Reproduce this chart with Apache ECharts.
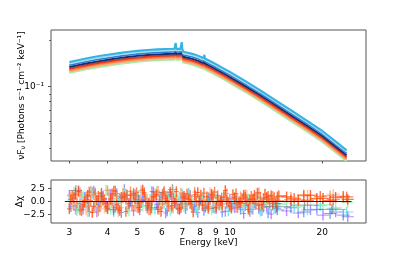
<!DOCTYPE html>
<html><head><meta charset="utf-8">
<script src="https://cdn.jsdelivr.net/npm/echarts@6/dist/echarts.min.js"></script>
<style>html,body{margin:0;padding:0;background:#fff}#c{width:407px;height:255px}</style>
</head><body><div id="c"></div>
<script>
// ---------- model (top panel): one model shape, one cross-normalisation constant per dataset ----------
const modelEnergy = [3.0,3.2,3.4,3.6,3.8,4.1,4.4,4.7,5.0,5.4,5.8,6.2,6.6,6.63,6.66,6.69,6.9,6.94,6.97,7.0,7.05,7.3,7.6,7.9,8.2,8.23,8.26,8.29,8.8,9.5,10,11.2,12.6,14.1,15.8,17.8,20,22.4,24];
const modelFlux   = [0.1340,0.1377,0.1411,0.1442,0.1469,0.1503,0.1535,0.1560,0.1581,0.1602,0.1617,0.1626,0.1631,0.1631,0.178,0.1630,0.1629,0.1628,0.180,0.1627,0.1560,0.1538,0.1507,0.1468,0.1422,0.1418,0.149,0.1413,0.1330,0.1225,0.1156,0.1012,0.0877,0.0759,0.0655,0.0562,0.0481,0.0403,0.0361];
const datasetNames = ['Green','Salmon','Orange','Red','Navy','Blue','Light','Cyan'];
const crossNorm    = [0.916, 0.935, 0.955, 0.975, 1.0, 1.029, 1.053, 1.077];

// ---------- residuals (bottom panel) ----------
const resErr = 1;
const energyGridA = [3.000,3.105,3.214,3.326,3.443,3.563,3.688,3.817,3.950,4.089,4.232,4.380,4.533,4.692,4.856,5.026,5.202,5.384,5.572,5.767,5.969,6.178,6.394,6.618,6.850,7.090,7.338,7.595,7.860,8.136,8.420,8.715,9.020,9.336,9.662,10.00,10.35,10.71,11.09,11.48,11.88,12.29,12.72,13.17,13.63,14.11,15.3,16.7,18.3,20.1,22.1,24.2];
const energyGridB = [3.035,3.141,3.251,3.364,3.483,3.604,3.730,3.861,3.995,4.136,4.281,4.430,4.585,4.746,4.912,5.084,5.262,5.446,5.636,5.833,6.038,6.249,6.468,6.694,6.929,7.172,7.422,7.682,7.950,8.230,8.517,8.815,9.124,9.443,9.773,10.12,10.47,10.83,11.22,11.61,12.02,12.43,12.87,13.32,13.79,14.27,15.8,17.4,19.2,21.2,23.4];
const energyGridC = [3.069,3.176,3.288,3.402,3.522,3.645,3.773,3.905,4.041,4.183,4.329,4.481,4.637,4.800,4.968,5.142,5.322,5.508,5.700,5.900,6.106,6.320,6.541,6.770,7.008,7.253,7.507,7.770,8.041,8.323,8.614,8.915,9.227,9.551,9.884,10.23,10.59,10.96,11.35,11.74,12.15,12.57,13.01,13.47,13.94,14.43,16.2,17.9,19.7,21.7,24.0];
const energyGray  = [3.15,3.46,3.8,4.18,4.6,5.05,5.55,6.1,6.5,7.0,7.7,8.5,9.4,10.5,12.0,14.2,17.5,21.5];

const resPurple = [1.2,-0.8,2.1,-1.5,0.4,1.7,-2.0,0.9,-0.3,1.4,-1.1,0.6,2.3,-0.7,-1.8,1.0,0.2,-1.3,1.9,-0.5,0.8,-2.2,1.3,-0.1,-1.6,0.7,1.5,-0.9,-2.1,0.3,-0.6,1.1,-1.4,-0.2,-1.9,0.5,-1.2,-0.4,-2.3,-0.8,-1.5,0.1,-1.7,-1.0,-2.4,-1.3,-1.8,-2.2,-1.6,-2.6,-2.0,-2.9];
const resGreen  = [0.3,1.8,-1.2,0.9,-2.0,1.4,0.1,-0.7,2.2,-1.5,0.6,-0.2,1.6,-1.8,0.8,1.2,-0.9,0.4,-1.4,1.9,-0.5,0.2,-1.7,1.1,0.7,-1.0,1.5,-0.3,-1.2,0.9,0.4,-1.6,1.0,-0.6,0.3,-1.1,0.8,-0.4,-0.9,0.5,-0.7,0.2,-1.3,-0.1,0.6,-0.8,-0.3,-1.0,0.4,-0.6,-1.2,-0.2];
const resRed    = [-1.4,0.7,1.9,-0.6,1.2,-2.1,0.3,1.6,-1.0,0.5,2.0,-1.7,0.9,-0.4,1.5,-1.2,2.2,-0.8,0.1,1.3,-1.9,0.6,1.8,-0.3,-1.4,1.0,0.4,-2.0,1.7,-0.7,0.9,1.4,-1.1,0.2,2.1,-0.9,0.7,-0.2,1.2,-1.5,0.5,1.6,-0.6,0.8,1.1,-0.4,0.9,0.3,1.2,0.6,0.8,0.4];
const resBlue   = [-1.0,1.6,-0.4,0.8,-1.9,2.0,-0.7,1.1,-1.3,0.2,1.5,-2.1,0.6,-0.1,1.3,-1.6,0.9,-0.5,1.8,-1.1,0.3,-1.8,1.0,-0.6,0.5,-1.4,1.2,-0.9,-0.2,-1.7,0.7,-1.2,0.1,-2.0,-0.4,-1.0,0.3,-1.5,-0.8,-1.9,-0.3,-1.4,-1.1,-2.2,-0.7,-1.6,-1.2,-2.0,-1.5,-2.3,-2.6];
const resCoral  = [0.9,-1.5,1.7,0.2,-0.9,1.3,-1.8,0.6,2.1,-0.4,1.0,-1.2,0.4,1.9,-0.8,0.1,1.4,-1.6,0.8,2.0,-0.5,1.1,-1.3,0.3,1.6,-1.0,0.7,1.8,-0.6,0.2,-1.4,1.2,0.5,-0.9,1.5,0.0,-1.1,0.9,1.3,-0.3,0.6,1.7,-0.7,0.4,1.0,0.2,0.8,1.3,0.5,1.1,0.7];
const resRed2   = [0.4,1.3,-1.6,-0.2,1.8,-0.9,1.0,0.3,-1.4,1.5,-0.6,0.8,-1.9,1.2,0.5,-1.1,1.7,-0.3,0.9,-1.5,1.4,0.2,-0.8,1.9,-1.2,0.6,-0.4,1.3,0.1,1.6,-1.0,0.7,1.1,-0.5,0.3,-1.3,1.5,-0.2,0.8,0.4,1.2,-0.7,0.5,1.0,-0.4,0.9,0.3,1.1,0.6,0.2,1.0];
const resCyan   = [0.5,-1.7,1.3,-0.3,2.0,-1.1,0.8,-0.6,1.5,-2.0,0.2,1.1,-1.4,0.7,-0.2,1.8,-0.9,0.4,-1.5,1.0,-0.4,0.9,-1.2,0.3,1.4,-0.8,-0.1,-1.6,0.6,-1.0,0.2,-1.3,-0.5,0.8,-1.8,-0.7,0.1,-1.1,-0.3,-1.5,-0.6,-1.9,-0.2,-1.0,-1.4,-0.5,-1.1,-1.6,-0.8,-1.3,-2.0];
const resPeach  = [-0.6,1.4,0.2,-1.6,1.9,-0.4,0.8,-1.3,1.2,0.5,-2.0,1.6,-0.1,0.9,-1.1,2.1,-0.7,0.3,1.5,-1.5,0.7,-0.3,1.8,-0.9,0.4,1.1,-1.2,0.6,1.3,-0.5,1.7,-0.8,0.2,1.0,-0.4,1.4,0.6,-0.2,1.2,0.3,0.9,-0.6,1.5,0.4,0.8,1.1,0.5,1.2,0.9,1.4,0.7];
const resTomato = [1.1,-0.3,-1.8,0.9,0.2,1.6,-1.0,0.4,-0.5,2.0,-1.3,0.7,1.2,-0.8,1.7,-0.2,0.5,-1.6,1.0,0.3,1.9,-0.9,0.6,-1.4,0.8,1.5,-0.6,0.1,1.2,-1.1,0.4,1.8,-0.7,0.9,-0.1,1.3,-1.2,0.6,0.2,1.0,-0.5,0.8,1.4,-0.3,0.7,1.1,0.6,0.2,1.0,0.4,0.9];
const resGray   = [2.1,-0.9,0.6,-1.6,1.2,0.3,-1.2,1.7,2.3,-0.5,1.0,-1.3,0.7,-0.4,0.5,-1.0,-0.7,-1.5];
const zeroLineEnergy = [2.9, 24.9];

// ---------- ticks ----------
const xTicks = [3,4,5,6,7,8,9,10,20];
const yMajorTicks = [0.1];
const yMinorTicks = [0.04,0.05,0.06,0.07,0.08,0.09,0.2];
const resTicks = [-2.5,0,2.5];

const FONT = 'DejaVu Sans';
const chart = echarts.init(document.getElementById('c'), null, {renderer:'canvas'});

function resData(es, rs){
  return es.map((e,i)=>{
    const prev = i>0 ? es[i-1] : e*e/es[i+1];
    const next = i<es.length-1 ? es[i+1] : e*e/es[i-1];
    return [e, rs[i], Math.sqrt(prev*e), Math.sqrt(e*next)];
  });
}
function errRender(color, opacity){
  return function(params, api){
    const e = api.value(0), r = api.value(1), lo = api.value(2), hi = api.value(3);
    const pc = api.coord([e, r]);
    const pl = api.coord([lo, r]), pr = api.coord([hi, r]);
    const pt = api.coord([e, r + resErr]), pb = api.coord([e, r - resErr]);
    return {type:'group', children:[
      {type:'line', shape:{x1:pl[0], y1:pc[1], x2:pr[0], y2:pc[1]}, style:{stroke:color, lineWidth:1, opacity:opacity}},
      {type:'line', shape:{x1:pc[0], y1:pt[1], x2:pc[0], y2:pb[1]}, style:{stroke:color, lineWidth:1.4, opacity:opacity}}
    ]};
  };
}

const modelColors = {Green:'#a3eea3', Salmon:'#ffaa80', Orange:'#ff7a3c', Red:'#dd3a20', Navy:'#1c2a6e', Blue:'#2f7fd0', Light:'#a8dcf2', Cyan:'#35b4e4'};
const resids = [
  [energyGridA, resPurple, '#9a5cff', 0.7],
  [energyGridB, resBlue,   '#3a6ff7', 0.65],
  [energyGridC, resCyan,   '#38d8e0', 0.65],
  [energyGridA, resGreen,  '#90eeb0', 0.8],
  [energyGray,  resGray,   '#555555', 0.55],
  [energyGridC, resPeach,  '#ffb38a', 0.8],
  [energyGridB, resCoral,  '#ff8c50', 0.8],
  [energyGridC, resTomato, '#ff6432', 0.8],
  [energyGridB, resRed2,   '#ff5018', 0.8],
  [energyGridA, resRed,    '#ff4a14', 0.85]
];

const series = [];
datasetNames.forEach((nm, k) => series.push({
  type:'line', name:nm, xAxisIndex:0, yAxisIndex:0,
  data: modelEnergy.map((e,i)=>[e, modelFlux[i]*crossNorm[k]]),
  showSymbol:false, symbol:'none', lineStyle:{color:modelColors[nm], width: nm==='Cyan'?2.1:1.9},
  itemStyle:{color:modelColors[nm]}, clip:true, silent:true
}));
resids.forEach(r => series.push({
  type:'custom', xAxisIndex:1, yAxisIndex:2,
  data: resData(r[0], r[1]), encode:{x:0, y:1},
  renderItem: errRender(r[2], r[3]), clip:true, silent:true
}));
series.push({
  type:'line', xAxisIndex:1, yAxisIndex:2, data: zeroLineEnergy.map(e=>[e,0]),
  showSymbol:false, symbol:'none', lineStyle:{color:'#222', width:1}, silent:true, z:5
});

const frame = {show:true, borderColor:'#555', borderWidth:1, backgroundColor:'transparent'};
const xMin = 2.615, xMax = 27.75;
const lbl = {color:'#000', fontFamily:FONT, fontSize:9};

chart.setOption({
  animation:false,
  grid:[
    Object.assign({left:51, right:41, top:30, height:131}, frame),
    Object.assign({left:51, right:41, top:180, height:43}, frame)
  ],
  xAxis:[
    {type:'log', gridIndex:0, min:xMin, max:xMax, logBase:10,
     axisLine:{show:false}, splitLine:{show:false}, minorTick:{show:false},
     axisTick:{show:true, customValues:xTicks, length:2.5, lineStyle:{color:'#555'}},
     axisLabel:{show:false, customValues:xTicks}},
    {type:'log', gridIndex:1, min:xMin, max:xMax, logBase:10,
     axisLine:{show:false}, splitLine:{show:false}, minorTick:{show:false},
     axisTick:{show:true, customValues:xTicks, length:2.5, lineStyle:{color:'#555'}},
     axisLabel:Object.assign({show:true, customValues:xTicks, margin:5,
       formatter:v=>String(Math.round(v))}, lbl),
     name:'Energy [keV]', nameLocation:'middle', nameGap:15,
     nameTextStyle:Object.assign({}, lbl)}
  ],
  yAxis:[
    {type:'log', gridIndex:0, position:'left', min:0.03317, max:0.2322, logBase:10,
     axisLine:{show:false}, splitLine:{show:false}, minorTick:{show:false},
     axisTick:{show:true, customValues:yMajorTicks, length:3, lineStyle:{color:'#555'}},
     axisLabel:Object.assign({show:true, customValues:yMajorTicks, margin:7,
       formatter:()=>'10⁻¹'}, lbl),
     name:'νF{sub|ν} [Photons s⁻¹ cm⁻² keV⁻¹]', nameLocation:'middle', nameGap:24, nameRotate:90,
     nameMoveOverlap:false,
     nameTextStyle:Object.assign({rich:{sub:{fontSize:6.5, fontFamily:FONT, color:'#000', verticalAlign:'bottom', padding:[4,0,0,0]}}}, lbl)},
    {type:'log', gridIndex:0, position:'left', min:0.03317, max:0.2322, logBase:10,
     axisLine:{show:false}, splitLine:{show:false}, minorTick:{show:false},
     axisTick:{show:true, customValues:yMinorTicks, length:1.8, lineStyle:{color:'#555'}},
     axisLabel:{show:false, customValues:yMinorTicks}},
    {type:'value', gridIndex:1, min:-4.1, max:4.1,
     axisLine:{show:false}, splitLine:{show:false},
     axisTick:{show:true, customValues:resTicks, length:3, lineStyle:{color:'#555'}},
     axisLabel:Object.assign({show:true, customValues:resTicks, margin:6,
       formatter:v=>(v<0?'−':'')+Math.abs(v).toFixed(1)}, lbl),
     name:'Δχ', nameLocation:'middle', nameGap:27, nameRotate:90, nameMoveOverlap:false,
     nameTextStyle:Object.assign({}, lbl)}
  ],
  series: series
});
</script></body></html>
